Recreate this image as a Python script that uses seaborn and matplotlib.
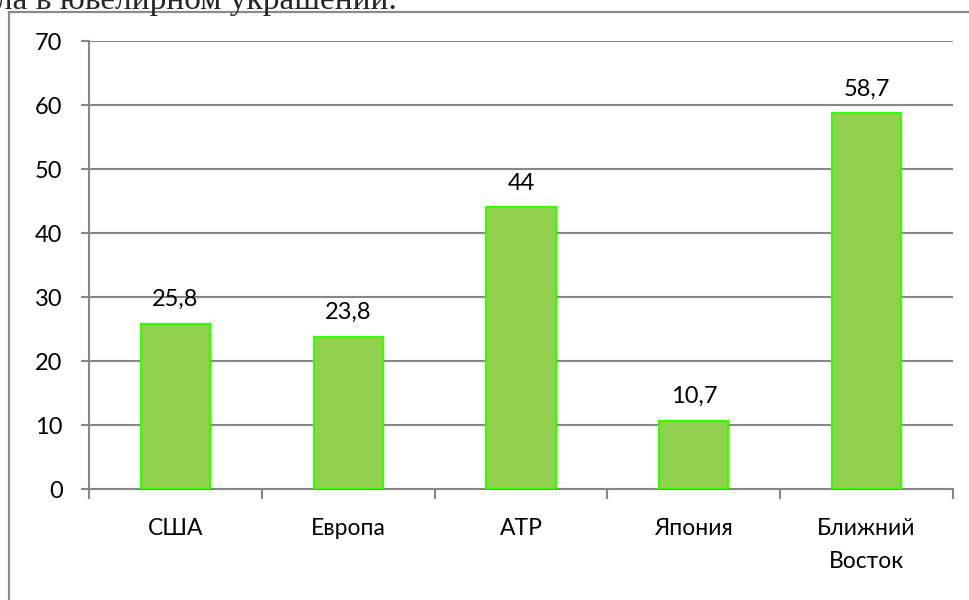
import matplotlib
matplotlib.use("Agg")
import matplotlib.pyplot as plt
import seaborn as sns
import pandas as pd
from matplotlib.patches import Rectangle

# --- Data ---
regions = ["США", "Европа", "АТР", "Япония", "Ближний\nВосток"]
values = [25.8, 23.8, 44, 10.7, 58.7]
value_labels = ["25,8", "23,8", "44", "10,7", "58,7"]
y_ticks = [0, 10, 20, 30, 40, 50, 60, 70]

sns.set_theme(style="white")
plt.rcParams['font.family'] = ['Lato', 'DejaVu Sans']

df = pd.DataFrame({"region": regions, "value": values})

fig = plt.figure(figsize=(9.7, 6.0), dpi=100)
ax = fig.add_axes([89 / 970, 1 - 489 / 600, (953 - 89) / 970, (489 - 41) / 600])

grid_col = "#878787"
sns.barplot(data=df, x="region", y="value", order=regions, width=0.4,
            color="#92D050", edgecolor="#33FF00", linewidth=1.6,
            saturation=1, ax=ax, zorder=3)

ax.set_ylim(0, 70)
ax.set_xlim(-0.5, len(regions) - 0.5)
ax.set_yticks(y_ticks)
ax.set_yticklabels([str(t) for t in y_ticks], fontsize=17, color="black")
ax.yaxis.grid(True, color=grid_col, linewidth=1.5, zorder=0)
ax.set_axisbelow(True)
ax.tick_params(axis="y", length=6, width=1.5, color=grid_col, pad=13, left=True)

# category labels centered, tick marks on category boundaries
ax.tick_params(axis="x", which="major", length=0, pad=21, labelsize=16.5,
               labelcolor="black")
ax.set_xticks([i - 0.5 for i in range(len(regions) + 1)], minor=True)
ax.tick_params(axis="x", which="minor", length=7, width=1.5, color=grid_col, bottom=True)
for lbl in ax.get_xticklabels():
    lbl.set_linespacing(1.7)

ax.set_xlabel("")
ax.set_ylabel("")
for side in ["top", "right"]:
    ax.spines[side].set_visible(False)
for side in ["left", "bottom"]:
    ax.spines[side].set_color(grid_col)
    ax.spines[side].set_linewidth(1.5)

# data labels
for i, (v, lab) in enumerate(zip(values, value_labels)):
    ax.annotate(lab, (i, v), xytext=(0, 10), textcoords="offset points",
                ha="center", va="bottom", fontsize=17, color="black")

# frame around the chart (cut off on the right and bottom)
fig.patches.append(Rectangle((9 / 970, -0.1), 1.2, 1.1 - 12 / 600,
                             transform=fig.transFigure, fill=False,
                             edgecolor="#8a8a8a", linewidth=1.6))

# cut-off line of text above the chart
fig.text(-0.004, 1 - 9 / 600, "ла в ювелирном украшении.", fontsize=24,
         family=["Liberation Serif", "DejaVu Serif"], ha="left", va="baseline")

fig.savefig("out.png", dpi=100)
